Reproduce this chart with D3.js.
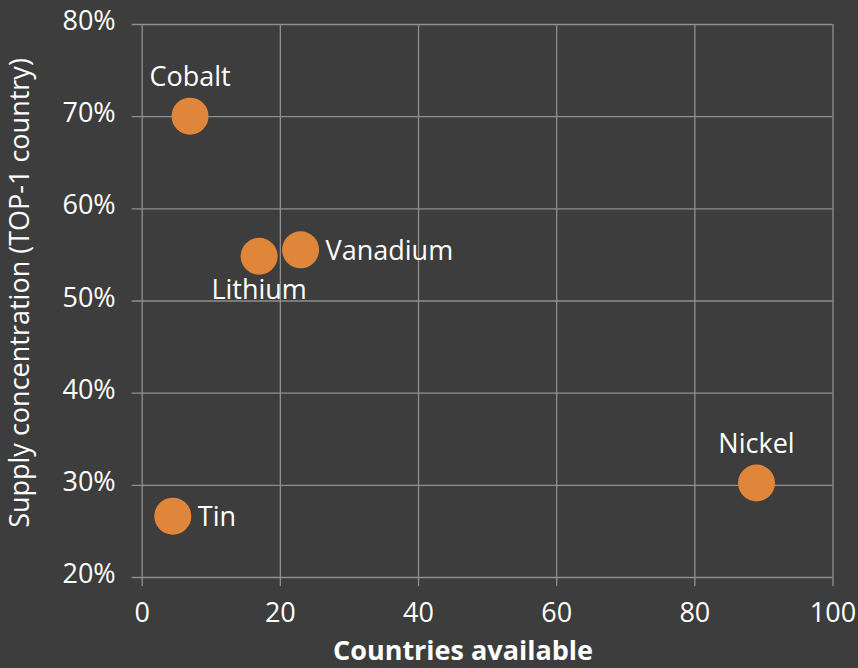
<!DOCTYPE html>
<html>
<head>
<meta charset="utf-8">
<script src="https://cdn.jsdelivr.net/npm/d3@7/dist/d3.min.js"></script>
<style>
  html, body { margin: 0; padding: 0; background: #3c3d3c; }
  svg { display: block; }
  text { font-family: "Open Sans", "DejaVu Sans", sans-serif; fill: #ffffff; }
</style>
</head>
<body>
<svg id="chart" width="858" height="668"></svg>
<script>
// Minerals: number of supplier countries vs. share held by the top supplier
const minerals = ["Cobalt", "Lithium", "Vanadium", "Nickel", "Tin"];
const countriesAvailable = [7, 17, 23, 89, 4.5];
const topShare = [0.70, 0.548, 0.555, 0.302, 0.266];
const labelSide = ["top", "bottom", "right", "top", "right"];

const xTicks = [0, 20, 40, 60, 80, 100];
const yTicks = [0.2, 0.3, 0.4, 0.5, 0.6, 0.7, 0.8];

const W = 858, H = 668;
const margin = { top: 24, right: 25.5, bottom: 91, left: 141.7 };
const innerW = W - margin.left - margin.right;
const innerH = H - margin.top - margin.bottom;

const svg = d3.select("#chart");
svg.append("rect").attr("width", W).attr("height", H).attr("fill", "#3c3d3c");

const g = svg.append("g").attr("transform", `translate(${margin.left},${margin.top})`);

const x = d3.scaleLinear().domain([0, 100]).range([0, innerW]);
const y = d3.scaleLinear().domain([0.2, 0.8]).range([innerH, 0]);

const gridColor = "#8f8f8f";

// horizontal gridlines with short ticks to the left
const yAxis = d3.axisLeft(y)
  .tickValues(yTicks)
  .tickFormat(d3.format(".0%"))
  .tickSize(-innerW)
  .tickPadding(0);
const gy = g.append("g").call(yAxis);
gy.select(".domain").remove();
gy.selectAll(".tick line")
  .attr("x1", -10).attr("x2", innerW)
  .attr("stroke", gridColor).attr("stroke-width", 1.3);
gy.selectAll(".tick text")
  .attr("x", -26).attr("dy", "0.32em").attr("y", -3)
  .style("font-size", "27px").attr("fill", "#fff");

// vertical gridlines with short ticks below
const xAxis = d3.axisBottom(x)
  .tickValues(xTicks)
  .tickFormat(d3.format("d"))
  .tickSize(-innerH)
  .tickPadding(0);
const gx = g.append("g").attr("transform", `translate(0,${innerH})`).call(xAxis);
gx.select(".domain").remove();
gx.selectAll(".tick line")
  .attr("y1", 9).attr("y2", -innerH)
  .attr("stroke", gridColor).attr("stroke-width", 1.3);
gx.selectAll(".tick text")
  .attr("y", 45).attr("dy", 0)
  .style("font-size", "27px").attr("fill", "#fff");

// points
const data = minerals.map((name, i) => ({
  name, cx: countriesAvailable[i], cy: topShare[i], side: labelSide[i]
}));

g.selectAll("circle.pt")
  .data(data)
  .join("circle")
  .attr("class", "pt")
  .attr("cx", d => x(d.cx))
  .attr("cy", d => y(d.cy))
  .attr("r", 18.5)
  .attr("fill", "#e0863a");

// point labels
g.selectAll("text.lbl")
  .data(data)
  .join("text")
  .attr("class", "lbl")
  .style("font-size", "27px")
  .attr("text-anchor", d => d.side === "right" ? "start" : "middle")
  .attr("x", d => x(d.cx) + (d.side === "right" ? 25 : 0))
  .attr("y", d => {
    const py = y(d.cy);
    if (d.side === "top") return py - 30;
    if (d.side === "bottom") return py + 43;
    return py + 10;
  })
  .text(d => d.name);

// axis titles
svg.append("text")
  .attr("x", 463).attr("y", 660)
  .attr("text-anchor", "middle")
  .style("font-size", "27px").style("font-weight", "bold")
  .text("Countries available");

svg.append("text")
  .attr("transform", "translate(28.5,293) rotate(-90)")
  .attr("text-anchor", "middle")
  .style("font-size", "27px")
  .text("Supply concentration (TOP-1 country)");
</script>
</body>
</html>
